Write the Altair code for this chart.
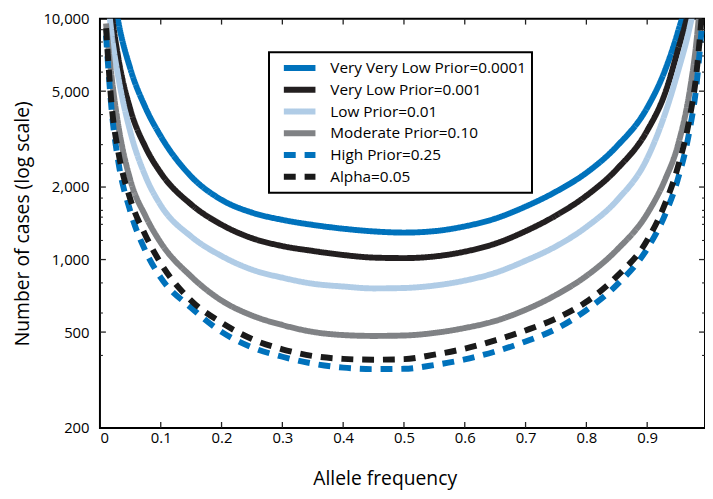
import altair as alt
import pandas as pd

# ---------------- data ----------------
allele_freq = [0.01, 0.02, 0.03, 0.05, 0.075, 0.1, 0.15, 0.2, 0.25, 0.3, 0.35, 0.4, 0.45,
               0.5, 0.55, 0.6, 0.65, 0.7, 0.75, 0.8, 0.85, 0.9, 0.93, 0.95, 0.97, 0.98, 0.99]

very_very_low = [25530, 13870, 9772, 6194, 4266, 3251, 2213, 1770, 1567, 1462, 1393, 1343, 1309,
                 1294, 1312, 1374, 1479, 1660, 1914, 2291, 2951, 4266, 6166, 8710, 13610, 19770, 37410]
very_low = [20000, 10300, 6918, 4198, 2924, 2291, 1694, 1396, 1227, 1138, 1086, 1045, 1019,
            1014, 1030, 1079, 1164, 1312, 1524, 1841, 2371, 3428, 4955, 7328, 11482, 16218, 28184]
low = [14454, 8318, 5754, 3388, 2213, 1679, 1247, 1035, 908, 841, 794, 773, 759,
       762, 780, 818, 881, 989, 1135, 1365, 1758, 2630, 4074, 5957, 9226, 12303, 19953]
moderate = [9550, 5495, 3631, 2138, 1514, 1175, 851, 676, 586, 535, 501, 486, 482,
            484, 496, 520, 556, 619, 713, 855, 1096, 1549, 2163, 2951, 5012, 7586, 14125]
high = [8511, 3981, 2570, 1585, 1084, 841, 631, 501, 432, 395, 370, 356, 351,
        352, 365, 385, 415, 457, 515, 617, 785, 1109, 1549, 2138, 3467, 5012, 9333]
alpha = [9120, 4169, 2818, 1778, 1259, 966, 676, 547, 468, 424, 398, 387, 384,
         386, 403, 427, 462, 508, 569, 668, 851, 1202, 1718, 2399, 3890, 5623, 10471]

series_names = ["Very Very Low Prior=0.0001", "Very Low Prior=0.001", "Low Prior=0.01",
                "Moderate Prior=0.10", "High Prior=0.25", "Alpha=0.05"]
series_values = [very_very_low, very_low, low, moderate, high, alpha]
series_colors = ["#0072BC", "#231F20", "#B0CCE6", "#808285", "#0072BC", "#1A1A1A"]
series_dashes = [[1, 0], [1, 0], [1, 0], [1, 0], [12, 9], [12, 9]]

x_tick_values = [0, 0.1, 0.2, 0.3, 0.4, 0.5, 0.6, 0.7, 0.8, 0.9]
y_major_ticks = [200, 500, 1000, 2000, 5000, 10000]
y_minor_ticks = [400, 600, 800, 1200, 1400, 1500, 1600, 1800, 2500, 3000, 4000, 6000, 7000, 8000, 9000]

# ---------------- tables ----------------
rows = []
for name, vals in zip(series_names, series_values):
    for xv, yv in zip(allele_freq, vals):
        rows.append({"x": xv, "y": yv, "series": name})
df = pd.DataFrame(rows)

xt_df = pd.DataFrame({"x": x_tick_values[1:]})
ymaj_df = pd.DataFrame({"y": y_major_ticks[1:-1]})
ymin_df = pd.DataFrame({"y": y_minor_ticks})

W, H = 612, 414
FONT = "Open Sans"

xscale = alt.Scale(domain=[0, 0.9951], nice=False, zero=False)
yscale = alt.Scale(type="log", domain=[200, 10000], nice=False)

x_axis = alt.Axis(title="Allele frequency", values=x_tick_values, format="~g",
                  ticks=False, domain=False, grid=False, labelPadding=3,
                  titleX=288, titleY=57.5, titleBaseline="alphabetic", titleAlign="center")
y_axis = alt.Axis(title="Number of cases (log scale)", values=y_major_ticks, format=",",
                  ticks=False, domain=False, grid=False, labelPadding=11,
                  titleX=-78, titleY=207, titleAngle=270, titleBaseline="middle",
                  titleAlign="center")

legend = alt.Legend(
    title=None, orient="none", legendX=171, legendY=34, padding=5,
    strokeColor="black", fillColor="white",
    symbolType="M-2.32,0H2.32", symbolSize=190, symbolStrokeWidth=6,
    symbolOffset=16, labelOffset=21, rowPadding=0, clipHeight=22, labelLimit=400,
    labelFont=FONT, labelFontSize=15.5, labelColor="black",
    symbolFillColor="transparent",
)

lines = alt.Chart(df).mark_line(strokeWidth=6, clip=True, strokeCap="butt",
                                interpolate="monotone").encode(
    x=alt.X("x:Q", scale=xscale, axis=x_axis),
    y=alt.Y("y:Q", scale=yscale, axis=y_axis),
    color=alt.Color("series:N", scale=alt.Scale(domain=series_names, range=series_colors),
                    legend=legend),
    strokeDash=alt.StrokeDash("series:N", scale=alt.Scale(domain=series_names, range=series_dashes),
                              legend=legend),
    order=alt.Order("x:Q"),
)

tick_color = "#222222"
bottom_ticks = alt.Chart(xt_df).mark_rule(color=tick_color, strokeWidth=1.3).encode(
    x=alt.X("x:Q", scale=xscale, axis=x_axis), y=alt.value(H - 6), y2=alt.value(H))
top_ticks = alt.Chart(xt_df).mark_rule(color=tick_color, strokeWidth=1.3).encode(
    x=alt.X("x:Q", scale=xscale, axis=x_axis), y=alt.value(0), y2=alt.value(6))
left_major = alt.Chart(ymaj_df).mark_rule(color=tick_color, strokeWidth=1.3).encode(
    y=alt.Y("y:Q", scale=yscale, axis=y_axis), x=alt.value(0), x2=alt.value(6))
left_minor = alt.Chart(ymin_df).mark_rule(color=tick_color, strokeWidth=1.1).encode(
    y=alt.Y("y:Q", scale=yscale, axis=y_axis), x=alt.value(0), x2=alt.value(3))
right_major = alt.Chart(ymaj_df).mark_rule(color=tick_color, strokeWidth=1.3).encode(
    y=alt.Y("y:Q", scale=yscale, axis=y_axis), x=alt.value(W - 6), x2=alt.value(W))
right_minor = alt.Chart(ymin_df).mark_rule(color=tick_color, strokeWidth=1.1).encode(
    y=alt.Y("y:Q", scale=yscale, axis=y_axis), x=alt.value(W - 3), x2=alt.value(W))

chart = alt.layer(
    lines, bottom_ticks, top_ticks, left_major, left_minor, right_major, right_minor
).properties(
    width=W, height=H,
    autosize=alt.AutoSizeParams(type="none"),
    padding={"left": 93, "top": 8, "right": 0, "bottom": 61},
    background="white",
).configure_view(
    stroke="black", strokeWidth=2
).configure_axis(
    labelFont=FONT, labelFontSize=15, labelColor="black",
    titleFont=FONT, titleFontSize=19.5, titleColor="black", titleFontWeight="normal",
).configure_legend(
    strokeWidth=2
)

chart.save("out.html", embed_options={"renderer": "svg", "actions": False})
